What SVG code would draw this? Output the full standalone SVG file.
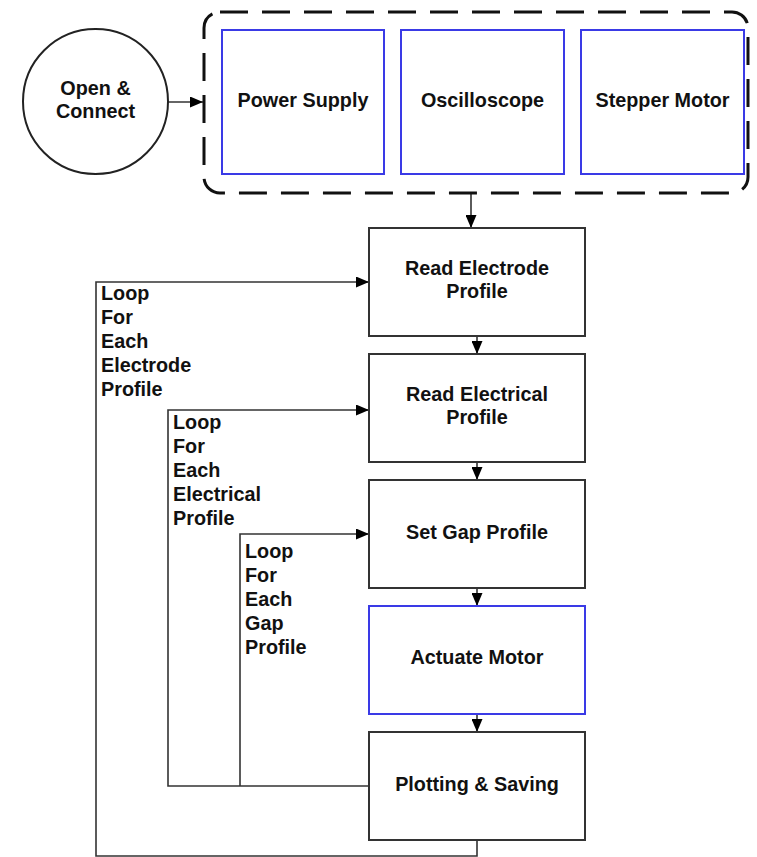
<svg xmlns="http://www.w3.org/2000/svg" width="757" height="857" viewBox="0 0 757 857">
<defs>
<marker id="ah" markerWidth="13" markerHeight="11" refX="13" refY="5.5" orient="auto" markerUnits="userSpaceOnUse">
<path d="M0,0 L13,5.5 L0,11 Z" fill="#000"/>
</marker>
<style>
.t{font-family:"Liberation Sans",Arial,sans-serif;font-weight:bold;font-size:19.8px;fill:#111;}
.c{text-anchor:middle;}
.box{fill:#fff;stroke:#333;stroke-width:2;}
.blue{fill:#fff;stroke:#3a3ae6;stroke-width:2;}
.con{fill:none;stroke:#333;stroke-width:1.6;}
</style>
</defs>
<rect width="757" height="857" fill="#fff"/>
<g id="connectors">
<line class="con" x1="168" y1="102" x2="203" y2="102" marker-end="url(#ah)"/>
<line class="con" x1="471" y1="193" x2="471" y2="228" marker-end="url(#ah)"/>
<line class="con" x1="477" y1="336" x2="477" y2="354" marker-end="url(#ah)"/>
<line class="con" x1="477" y1="462" x2="477" y2="480" marker-end="url(#ah)"/>
<line class="con" x1="477" y1="588" x2="477" y2="606" marker-end="url(#ah)"/>
<line class="con" x1="477" y1="714" x2="477" y2="732" marker-end="url(#ah)"/>
<polyline class="con" points="477,840 477,856 96,856 96,282 369,282" marker-end="url(#ah)"/>
<polyline class="con" points="369,786 168,786 168,410 369,410" marker-end="url(#ah)"/>
<polyline class="con" points="240,786 240,534 369,534" marker-end="url(#ah)"/>
</g>
<g id="open-connect">
<circle cx="95.5" cy="101.5" r="72.5" fill="#fff" stroke="#222" stroke-width="2"/>
<text class="t c" x="95.5" y="95">Open &amp;</text>
<text class="t c" x="95.5" y="118">Connect</text>
</g>
<g id="instruments">
<rect x="204" y="12" width="544" height="181" rx="16" ry="16" fill="none" stroke="#111" stroke-width="3" stroke-dasharray="28 14"/>
</g>
<g id="power-supply">
<rect class="blue" x="222" y="30" width="162" height="144"/>
<text class="t c" x="303" y="107">Power Supply</text>
</g>
<g id="oscilloscope">
<rect class="blue" x="401" y="30" width="163" height="144"/>
<text class="t c" x="482.5" y="107">Oscilloscope</text>
</g>
<g id="stepper-motor">
<rect class="blue" x="581" y="30" width="163" height="144"/>
<text class="t c" x="662.5" y="107">Stepper Motor</text>
</g>
<g id="read-electrode">
<rect class="box" x="369" y="228" width="216" height="108"/>
<text class="t c" x="477" y="275">Read Electrode</text>
<text class="t c" x="477" y="298">Profile</text>
</g>
<g id="read-electrical">
<rect class="box" x="369" y="354" width="216" height="108"/>
<text class="t c" x="477" y="401">Read Electrical</text>
<text class="t c" x="477" y="424">Profile</text>
</g>
<g id="set-gap">
<rect class="box" x="369" y="480" width="216" height="108"/>
<text class="t c" x="477" y="539">Set Gap Profile</text>
</g>
<g id="actuate-motor">
<rect class="blue" x="369" y="606" width="216" height="108"/>
<text class="t c" x="477" y="664">Actuate Motor</text>
</g>
<g id="plotting-saving">
<rect class="box" x="369" y="732" width="216" height="108"/>
<text class="t c" x="477" y="791">Plotting &amp; Saving</text>
</g>
<g id="label-electrode-loop">
<text class="t" x="101" y="300">Loop</text>
<text class="t" x="101" y="324">For</text>
<text class="t" x="101" y="348">Each</text>
<text class="t" x="101" y="372">Electrode</text>
<text class="t" x="101" y="396">Profile</text>
</g>
<g id="label-electrical-loop">
<text class="t" x="173" y="429">Loop</text>
<text class="t" x="173" y="453">For</text>
<text class="t" x="173" y="477">Each</text>
<text class="t" x="173" y="501">Electrical</text>
<text class="t" x="173" y="525">Profile</text>
</g>
<g id="label-gap-loop">
<text class="t" x="245" y="558">Loop</text>
<text class="t" x="245" y="582">For</text>
<text class="t" x="245" y="606">Each</text>
<text class="t" x="245" y="630">Gap</text>
<text class="t" x="245" y="654">Profile</text>
</g>
</svg>
